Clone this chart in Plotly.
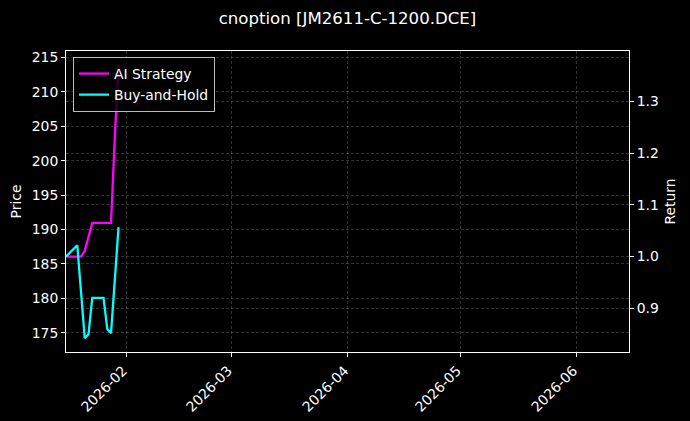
import plotly.graph_objects as go

dates = ["2026-01-16", "2026-01-19", "2026-01-20", "2026-01-21", "2026-01-22",
         "2026-01-23", "2026-01-26", "2026-01-27", "2026-01-28", "2026-01-29",
         "2026-01-30"]
ai_strategy = [1.000, 1.000, 1.000, 1.011, 1.038, 1.065, 1.065, 1.065, 1.065, 1.230, 1.371]
buy_and_hold = [1.000, 1.022, 0.932, 0.842, 0.850, 0.920, 0.920, 0.860, 0.852, 0.955, 1.057]

price_ticks = [175, 180, 185, 190, 195, 200, 205, 210, 215]
return_ticks = [0.9, 1.0, 1.1, 1.2, 1.3]

FONT = "DejaVu Sans"
FS = 13.9
GRID = "rgba(128,128,128,0.38)"

fig = go.Figure()
# empty trace so that the left (Price) axis is drawn
fig.add_trace(go.Scatter(x=[], y=[], mode="lines", showlegend=False,
                         hoverinfo="skip", yaxis="y"))
fig.add_trace(go.Scatter(x=dates, y=ai_strategy, name="AI Strategy", mode="lines",
                         line=dict(color="#ff00ff", width=2.3), yaxis="y2"))
fig.add_trace(go.Scatter(x=dates, y=buy_and_hold, name="Buy-and-Hold", mode="lines",
                         line=dict(color="#00ffff", width=2.3), yaxis="y2"))

allv = ai_strategy + buy_and_hold
lo, hi = min(allv), max(allv)
pad = 0.05 * (hi - lo)

axis_common = dict(
    showline=True, linecolor="white", linewidth=1,
    ticks="outside", ticklen=4, tickcolor="white", tickwidth=1,
    tickfont=dict(family=FONT, size=FS, color="white"),
    gridcolor=GRID, gridwidth=0.6, griddash="3px,2px",
    zeroline=False,
)

fig.update_layout(
    width=690, height=421,
    paper_bgcolor="black", plot_bgcolor="black",
    margin=dict(l=66, r=61, t=51, b=69, autoexpand=False),
    title=dict(text="cnoption [JM2611-C-1200.DCE]", x=0.5, xref="paper",
               y=0.957, yref="container", yanchor="middle", xanchor="center",
               font=dict(family=FONT, size=16.6, color="white")),
    xaxis=dict(type="date", range=["2026-01-16", "2026-06-15"], showgrid=True,
               dtick="M1", tick0="2026-02-01", tickformat="%Y-%m", tickangle=-45,
               ticklabelshift=-3, mirror=True, **axis_common),
    yaxis=dict(range=[172.2, 215.95], tickvals=price_ticks, showgrid=True,
               title=dict(text="Price", font=dict(family=FONT, size=FS, color="white"), standoff=6),
               **axis_common),
    yaxis2=dict(range=[lo - pad, hi + pad], tickvals=return_ticks, tickformat=".1f",
                overlaying="y", side="right", showgrid=True,
                title=dict(text="Return", font=dict(family=FONT, size=FS, color="white"), standoff=7),
                **axis_common),
    legend=dict(x=0.0124, y=0.98, xanchor="left", yanchor="top",
                bgcolor="rgba(0,0,0,0.8)", bordercolor="#bbbbbb", borderwidth=1,
                font=dict(family=FONT, size=FS, color="white"), tracegroupgap=0),
    showlegend=True,
)

fig.write_html("out.html", config={"displayModeBar": False},
               post_script="document.body.style.margin='0';document.body.style.overflow='hidden';")
